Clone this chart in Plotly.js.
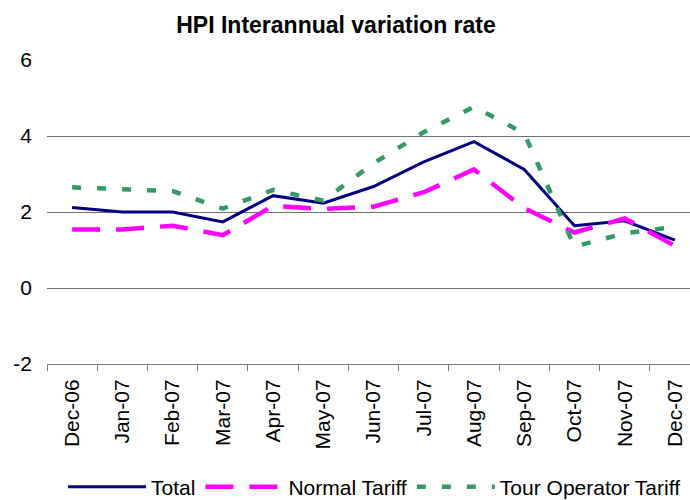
<!DOCTYPE html>
<html>
<head>
<meta charset="utf-8">
<script src="https://cdn.plot.ly/plotly-3.0.1.min.js"></script>
<style>
html,body{margin:0;padding:0;overflow:hidden;background:#fff;}
#chart{width:690px;height:500px;}
</style>
</head>
<body>
<div id="chart"></div>
<script>
var months = ["Dec-06","Jan-07","Feb-07","Mar-07","Apr-07","May-07","Jun-07","Jul-07","Aug-07","Sep-07","Oct-07","Nov-07","Dec-07"];
var totalRate = [2.12, 2.0, 2.0, 1.74, 2.43, 2.23, 2.67, 3.32, 3.85, 3.12, 1.64, 1.77, 1.26];
var normalTariff = [1.54, 1.54, 1.64, 1.39, 2.16, 2.08, 2.14, 2.52, 3.12, 2.10, 1.46, 1.83, 1.11];
var tourOperatorTariff = [2.65, 2.60, 2.55, 2.09, 2.58, 2.30, 3.28, 4.10, 4.77, 4.07, 1.09, 1.44, 1.61];
var seriesNames = ["Total", "Normal Tariff", "Tour Operator Tariff"];
var yTicks = [-2, 0, 2, 4, 6];
var yTickLabels = ["-2", "0", "2", "4", "6"];

var FONT = "Liberation Sans, Arial, sans-serif";

var traces = [
  {x: months, y: totalRate, name: seriesNames[0], type: "scatter", mode: "lines",
   line: {color: "#000080", width: 3}},
  {x: months, y: normalTariff, name: seriesNames[1], type: "scatter", mode: "lines",
   line: {color: "#FF00FF", width: 4.5, dash: "28px,16px"}},
  {x: months, y: tourOperatorTariff, name: seriesNames[2], type: "scatter", mode: "lines",
   line: {color: "#339966", width: 4.5, dash: "9px,16px"}}
];

var layout = {
  width: 690, height: 500,
  margin: {l: 47, r: 0, t: 60, b: 136, pad: 0},
  paper_bgcolor: "#fff", plot_bgcolor: "#fff",
  font: {family: FONT, color: "#000", size: 21},
  title: {text: "<b>HPI Interannual variation rate</b>", font: {family: FONT, size: 23, color: "#000"},
          xref: "container", x: 0.487, xanchor: "center", yref: "container", y: 0.95, yanchor: "middle"},
  xaxis: {type: "category", range: [-0.5, 12.3], tickson: "boundaries",
          ticks: "outside", ticklen: 6, tickcolor: "#808080", tickwidth: 1,
          showline: true, linecolor: "#808080", linewidth: 1,
          showgrid: false, tickangle: -90, tickfont: {size: 21, family: FONT},
          ticklabelstandoff: 6},
  yaxis: {range: [-2, 6], tickvals: yTicks, ticktext: yTickLabels, showgrid: true, gridcolor: "#707070", gridwidth: 1,
          zeroline: false, showline: false, ticks: "", tickfont: {size: 21, family: FONT},
          ticklabelstandoff: 14},
  showlegend: true,
  legend: {orientation: "h", x: 0.025, xanchor: "left", yref: "container", y: 0.026, yanchor: "middle",
           itemwidth: 78, font: {size: 21, family: FONT}, bgcolor: "rgba(0,0,0,0)", tracegroupgap: 0}
};

Plotly.newPlot("chart", traces, layout, {displayModeBar: false, staticPlot: true});
</script>
</body>
</html>
